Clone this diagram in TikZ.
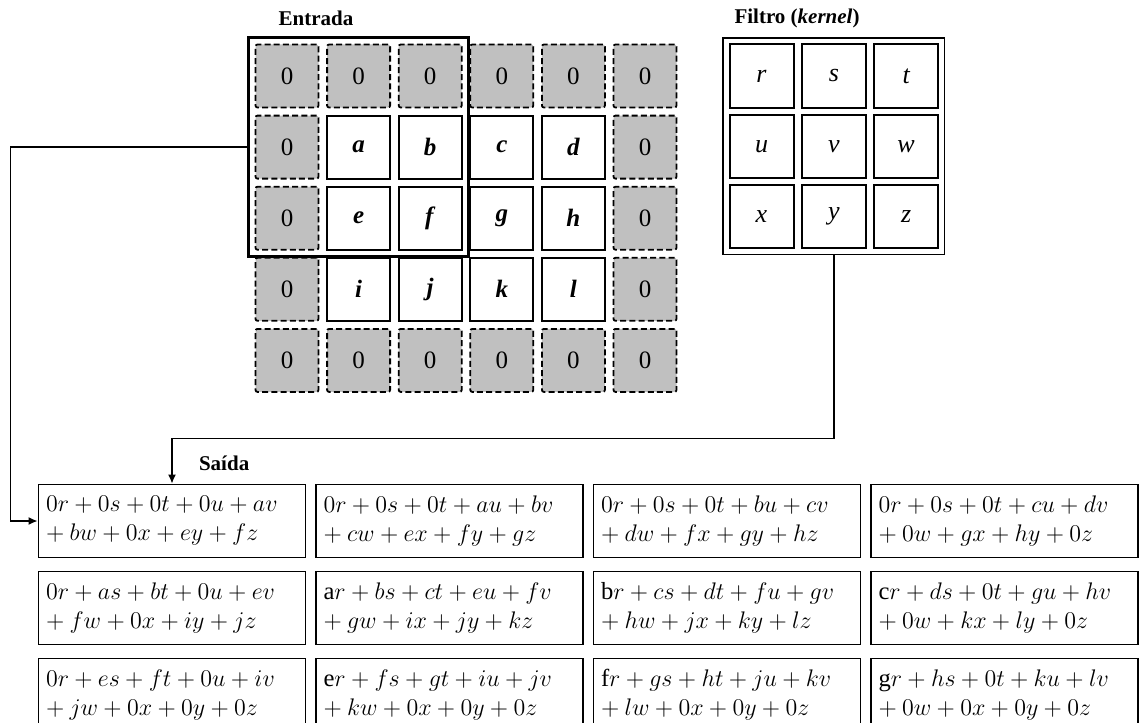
\documentclass[tikz,border=0pt]{standalone}
\usepackage{fontspec}
\setmainfont{Liberation Serif}
\usepackage{tikz}
\usetikzlibrary{positioning, fit, arrows.meta}
\definecolor{padgray}{RGB}{192,192,192}

\begin{document}
\begin{tikzpicture}[
  x=0.5pt, y=-0.5pt,
  >={Latex[length=4.5pt, width=4pt]},
  cell/.style={draw, line width=0.9pt, minimum width=31.5pt, minimum height=31.5pt,
               inner sep=0pt, font=\fontsize{12.5}{15}\selectfont},
  padcell/.style={cell, fill=padgray, dash pattern=on 3pt off 1.6pt, rounded corners=1pt},
  incell/.style={cell, fill=white},
  kcell/.style={cell, line width=1pt, minimum width=32pt, font=\fontsize{13}{15}\selectfont\itshape},
  frame/.style={draw, inner sep=2.7pt},
  outbox/.style={draw, line width=0.9pt, minimum width=133.5pt, minimum height=36.5pt,
                 text width=126pt, align=left, inner sep=0pt, font=\fontsize{12.3}{14.5}\selectfont},
  lbl/.style={font=\fontsize{10.5}{12}\selectfont\bfseries},
  arr/.style={->, line width=0.75pt}
]
\useasboundingbox (0,0) rectangle (1143,722);
\clip (0,0) rectangle (1143,722);

% entrada com padding de zeros
\foreach \c in {0,...,5}
  \foreach \r in {0,4}
    \node[padcell] (in-\c-\r) at ({287+71.6*\c},{76+71.1*\r}) {0};
\foreach \c in {0,5}
  \foreach \r in {1,2,3}
    \node[padcell] (in-\c-\r) at ({287+71.6*\c},{76+71.1*\r}) {0};
\foreach \ch [count=\k from 0] in {a,b,c,d,e,f,g,h,i,j,k,l} {
  \pgfmathtruncatemacro\c{mod(\k,4)+1}
  \pgfmathtruncatemacro\r{div(\k,4)+1}
  \node[incell] (in-\c-\r) at ({287+71.6*\c},{76+71.1*\r}) {\textbf{\textit{\ch}}};
}
\node[draw, line width=1.2pt, inner sep=3pt, fit=(in-0-0)(in-2-2)] (win) {};
\node[lbl] (lin) at (316,18) {Entrada};

% filtro
\foreach \ch [count=\k from 0] in {r,s,t,u,v,w,x,y,z} {
  \pgfmathtruncatemacro\c{mod(\k,3)}
  \pgfmathtruncatemacro\r{div(\k,3)}
  \node[kcell] (k-\c-\r) at ({761.5+72.3*\c},{76+70.3*\r}) {\ch};
}
\node[frame, line width=0.8pt, fit=(k-0-0)(k-2-2)] (kf) {};
\node[lbl] (lk) at (797,18) {Filtro (\textit{kernel})};

% saida
\foreach \r/\c/\la/\lb in {
  1/1/{0r + 0s + 0t + 0u + av}/{bw + 0x + ey + fz},
  1/2/{0r + 0s + 0t + au + bv}/{cw + ex + fy + gz},
  1/3/{0r + 0s + 0t + bu + cv}/{dw + fx + gy + hz},
  1/4/{0r + 0s + 0t + cu + dv}/{0w + gx + hy + 0z},
  2/1/{0r + as + bt + 0u + ev}/{fw + 0x + iy + jz},
  2/2/{\mathrm{a}r + bs + ct + eu + fv}/{gw + ix + jy + kz},
  2/3/{\mathrm{b}r + cs + dt + fu + gv}/{hw + jx + ky + lz},
  2/4/{\mathrm{c}r + ds + 0t + gu + hv}/{0w + kx + ly + 0z},
  3/1/{0r + es + ft + 0u + iv}/{jw + 0x + 0y + 0z},
  3/2/{\mathrm{e}r + fs + gt + iu + jv}/{kw + 0x + 0y + 0z},
  3/3/{\mathrm{f}r + gs + ht + ju + kv}/{lw + 0x + 0y + 0z},
  3/4/{\mathrm{g}r + hs + 0t + ku + lv}/{0w + 0x + 0y + 0z}}
  \node[outbox] (out-\c-\r) at ({172+277.5*(\c-1)},{521+87*(\r-1)}) {$\la$\\$+\:\lb$};
\node[lbl, above right=3pt and 10pt of out-1-1.north] (lout) {Saída};

\draw[arr] (win.west) -- ++(-237,0) |- (out-1-1.west);
\draw[arr] (kf.south) -- ++(0,183) -| (out-1-1.north);
\end{tikzpicture}
\end{document}
